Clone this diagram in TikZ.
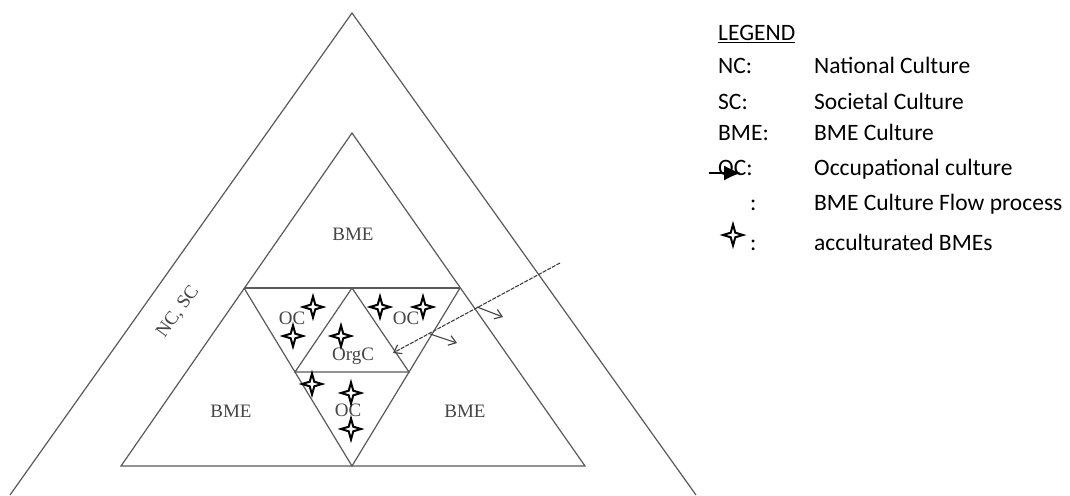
\documentclass[tikz,border=0pt]{standalone}
\usepackage{fontspec}
\setmainfont{Liberation Serif}
\newfontfamily\legfont{Carlito}
\usetikzlibrary{arrows.meta}
\definecolor{linegray}{RGB}{90,90,90}
\definecolor{labgray}{RGB}{70,70,70}
\begin{document}
\begin{tikzpicture}[x=1pt,y=-1pt,
  tri/.style={draw=linegray,line width=1.2pt,line join=miter},
  lab/.style={font=\fontsize{19}{21}\selectfont,text=labgray,inner sep=0pt,anchor=base},
  leg/.style={font=\legfont\fontsize{23.5}{25}\selectfont,anchor=base west,inner sep=0pt},
  star4/.pic={\draw[fill=white,line width=2pt,miter limit=25] (0,-10.5) -- (2.3,-2.3) -- (10,0) -- (2.3,2.3) -- (0,10.5) -- (-2.3,2.3) -- (-10,0) -- (-2.3,-2.3) -- cycle;},
  flow/.style={draw=black!75,line width=1.1pt,-{Straight Barb[length=7pt,width=10pt]}}
]
\fill[white] (0,0) rectangle (1070,495);
\useasboundingbox (0,0) rectangle (1070,495);
% outer triangle (NC, SC)
\coordinate (A) at (352,13);
\coordinate (AL) at (10,495);
\coordinate (AR) at (696,495);
\draw[tri] (AL) -- (A) -- (AR);
% inner triangle (BME)
\coordinate (B) at (352,133);
\coordinate (BL) at (121,466);
\coordinate (BR) at (585,466);
\draw[tri] (B) -- (BL) -- (BR) -- cycle;
% inverted triangle
\coordinate (ML) at (244,288);
\coordinate (MR) at (460,288);
\coordinate (BC) at (352,466);
\draw[tri] (ML) -- (MR);
\draw[tri] (ML) -- (BC) -- (MR);
% OrgC triangle
\coordinate (OT) at (352,288);
\coordinate (OL) at (295,372);
\coordinate (OR) at (409,372);
\draw[tri] (OL) -- (OT) -- (OR) -- cycle;
% labels
\node[lab] (bmeT) at (353,240) {BME};
\node[lab] (bmeL) at (231,417) {BME};
\node[lab] (bmeR) at (465,417) {BME};
\node[lab] (ocL) at (292,324) {OC};
\node[lab] (ocR) at (406,324) {OC};
\node[lab] (orgc) at (353,360) {OrgC};
\node[lab] (ocB) at (348,416) {OC};
\node[font=\fontsize{19}{21}\selectfont,text=labgray,inner sep=0pt,rotate=54] (ncsc) at (178,312) {NC, SC};
% flow arrows
\coordinate (f0) at (560,263);
\coordinate (f1) at (393,353);
\draw[flow,dash pattern=on 4pt off 1.2pt] (f0) -- (f1);
\coordinate (g0) at (477,307);
\coordinate (g1) at (503,317);
\draw[flow] (g0) -- (g1);
\coordinate (h0) at (430,334);
\coordinate (h1) at (457,343);
\draw[flow] (h0) -- (h1);
% stars
\pic at (313,307) {star4};
\pic at (293,336) {star4};
\pic at (380,307) {star4};
\pic at (423,307) {star4};
\pic at (341,336) {star4};
\pic at (312,384) {star4};
\pic at (351,393) {star4};
\pic at (351,429) {star4};
% legend
\node[leg] (legT) at (718,41) {\underline{LEGEND}};
\node[leg] (k1) at (718,74) {NC:};
\node[leg] (v1) at (814,74) {National Culture};
\node[leg] (k2) at (718,109) {SC:};
\node[leg] (v2) at (814,109) {Societal Culture};
\node[leg] (k3) at (718,140) {BME:};
\node[leg] (v3) at (814,140) {BME Culture};
\node[leg] (k4) at (718,175) {OC:};
\node[leg] (v4) at (814,175) {Occupational culture};
\node[leg] (k5) at (750,210) {:};
\node[leg] (v5) at (814,210) {BME Culture Flow process};
\node[leg] (k6) at (750,250) {:};
\node[leg] (v6) at (814,250) {acculturated BMEs};
\coordinate (la1) at (709,173);
\coordinate (la2) at (741,173);
\draw[black,line width=1.3pt,-{Latex[length=17pt,width=15pt]}] (la1) -- (la2);
\pic at (733,235) {star4};
\end{tikzpicture}
\end{document}
